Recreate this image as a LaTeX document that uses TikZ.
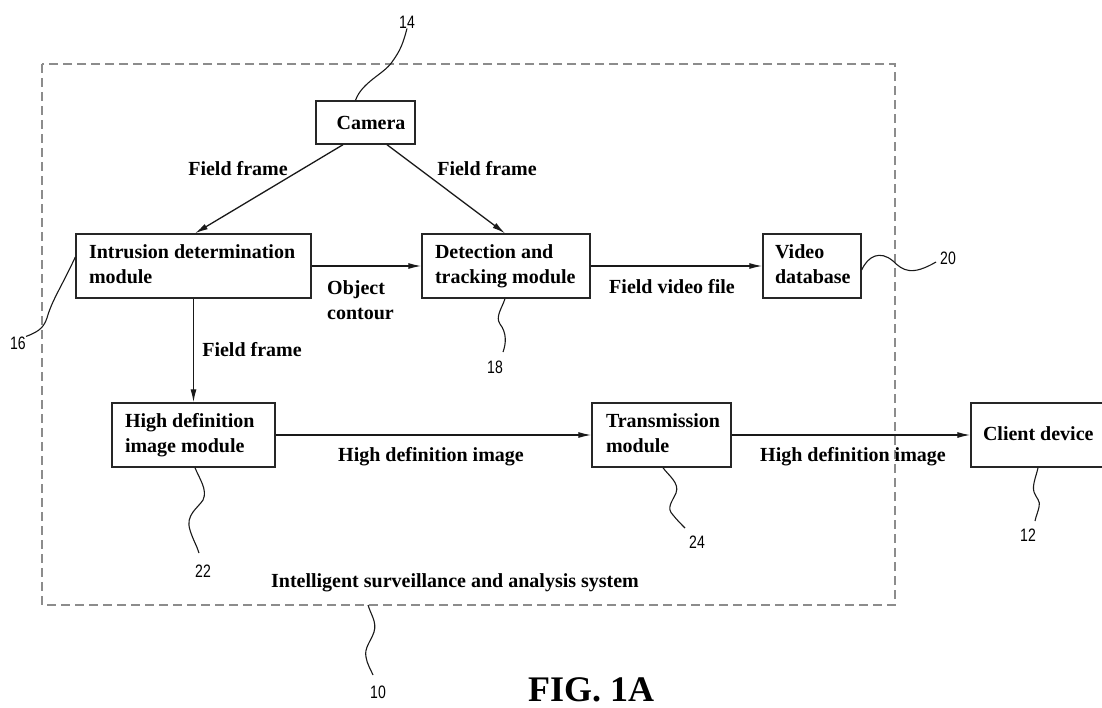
\documentclass[tikz,border=0pt]{standalone}
\usepackage{fontspec}
\setmainfont{Liberation Serif}
\newfontfamily\refnumfont[FakeStretch=0.78]{Liberation Sans}
\usetikzlibrary{arrows.meta,calc}

\newcommand{\blines}[1]{\begin{tabular}{@{}l@{}}#1\end{tabular}}

\tikzset{
  blk/.style={draw=black!85, line width=1.4pt, minimum height=64pt, inner xsep=13pt,
    inner ysep=0pt, align=flush left, font=\fontsize{20}{25}\selectfont\bfseries},
  lbl/.style={inner sep=0pt, align=left, font=\fontsize{20}{25}\selectfont\bfseries},
  flow/.style={line width=1.3pt, draw=black!90, -{Latex[length=13pt,width=6pt]}},
  lead/.style={line width=1.1pt, draw=black!90},
  refnum/.style={inner sep=0pt, font=\refnumfont\fontsize{18}{18}\selectfont},
  sysframe/.style={draw={rgb,255:red,140;green,140;blue,140}, line width=1.4pt,
    dash pattern=on 9pt off 5pt}
}

\begin{document}
\begin{tikzpicture}[x=1pt,y=-1pt]
\useasboundingbox (0,0) rectangle (1102,707);

% system boundary
\draw[sysframe] (42,64) rectangle (895,605);

% blocks
\node[blk, minimum width=99pt, minimum height=43pt, align=center, inner xsep=0pt]
  (cam) at (365.5,122.5) {\hspace{11pt}Camera};
\node[blk, text width=209pt] (intr) at (193.5,266) {\blines{Intrusion determination\\module}};
\node[blk, text width=142pt] (det) at (506,266) {\blines{Detection and\\tracking module}};
\node[blk, text width=74pt, inner xsep=12pt] (vdb) at (812,266) {\blines{Video\\database}};
\node[blk, text width=137pt] (hd) at (193.5,435) {\blines{High definition\\image module}};
\node[blk, text width=111pt, inner xsep=14pt] (tr) at (661.5,435) {\blines{Transmission\\module}};
\node[blk, text width=112pt, inner xsep=12pt] (cl) at (1039,435) {\blines{Client device}};

% data flow
\draw[flow] ([xshift=-22.5pt]cam.south) -- ([xshift=1.5pt]intr.north);
\draw[flow] ([xshift=21.5pt]cam.south) -- ([xshift=-1pt]det.north);
\draw[flow] (intr.east) -- (det.west);
\draw[flow] (det.east) -- (vdb.west);
\draw[flow] (intr.south) -- (hd.north);
\draw[flow] (hd.east) -- (tr.west);
\draw[flow] (tr.east) -- (cl.west);

% flow labels
\node[lbl] (ffl) at (238,169) {Field frame};
\node[lbl] (ffr) at (487,169) {Field frame};
\node[lbl, anchor=west] (obj) at (327,300) {Object\\contour};
\node[lbl] (ffd) at (252,350) {Field frame};
\node[lbl] (fvf) at (672,287) {Field video file};
\node[lbl] (hdi1) at (431,457) {High definition image};
\node[lbl] (hdi2) at (853,457) {High definition image};
\node[lbl] (sys) at (455,583) {Intelligent surveillance and analysis system};

% reference numerals and leader lines
\node[refnum] (n14) at (407,22) {14};
\draw[lead] ([xshift=-10pt]cam.north) .. controls (362,82) and (384,74) .. (392,62)
  .. controls (400,51) and (403,44) .. (n14.south);

\node[refnum] (n16) at (18,343) {16};
\draw[lead] ([yshift=9pt]intr.west) .. controls (62,286) and (52,300) .. (47,318)
  .. controls (44,326) and (41,331) .. (n16.north east);

\node[refnum] (n18) at (495,367) {18};
\coordinate (e18) at (503,352);
\draw[lead] ([xshift=-1pt]det.south) .. controls (502,308) and (495,317) .. (500,324)
  .. controls (507,333) and (506,344) .. (e18);

\node[refnum] (n20) at (948,258) {20};
\coordinate (e20) at (936,262);
\draw[lead] ([yshift=-4pt]vdb.east) .. controls (868,256) and (880,250) .. (893,261)
  .. controls (903,271) and (912,276) .. (e20);

\node[refnum] (n22) at (203,571) {22};
\coordinate (e22) at (199,553);
\draw[lead] ([xshift=1.5pt]hd.south) .. controls (199,478) and (208,490) .. (203,500)
  .. controls (198,508) and (185,515) .. (190,530) .. controls (193,540) and (197,546) .. (e22);

\node[refnum] (n24) at (697,542) {24};
\coordinate (e24) at (685,528);
\draw[lead] ([xshift=1.5pt]tr.south) .. controls (668,475) and (680,483) .. (676,493)
  .. controls (672,502) and (666,508) .. (673,515) .. controls (677,520) and (681,524) .. (e24);

\node[refnum] (n12) at (1028,535) {12};
\coordinate (e12) at (1035,521);
\draw[lead] ([xshift=-1pt]cl.south) .. controls (1036,477) and (1032,485) .. (1034,492)
  .. controls (1036,498) and (1041,501) .. (1039,507) .. controls (1038,512) and (1036,516) .. (e12);

\node[refnum] (n10) at (378,692) {10};
\coordinate (b10) at (368,605);
\coordinate (e10) at (373,675);
\draw[lead] (b10) .. controls (371,615) and (377,622) .. (374,632)
  .. controls (371,641) and (364,648) .. (366,657) .. controls (367,664) and (371,670) .. (e10);

% figure caption
\node[inner sep=0pt, anchor=base, font=\fontsize{36}{36}\selectfont\bfseries] (fig) at (591,701) {FIG. 1A};
\end{tikzpicture}
\end{document}
